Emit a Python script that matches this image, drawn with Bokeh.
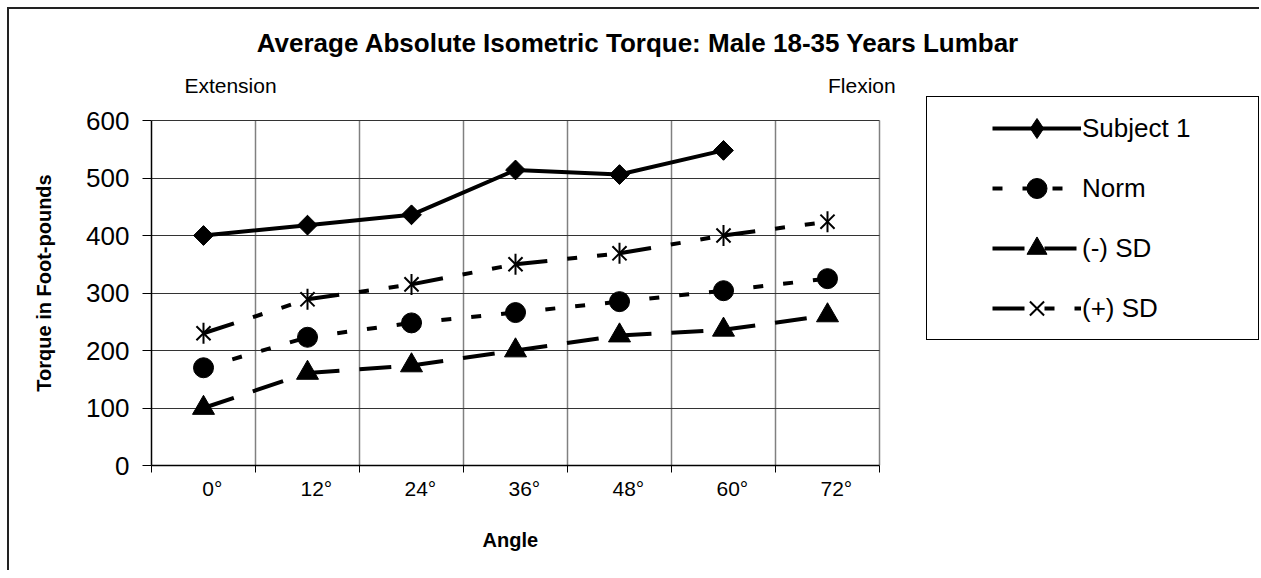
import numpy as np
from bokeh.plotting import figure
from bokeh.models import (Range1d, FixedTicker, Legend, LegendItem, LinearAxis,
                          InlineStyleSheet)
from bokeh.embed import file_html
from bokeh.resources import INLINE

# ---------------- data ----------------
angles = ["0°", "12°", "24°", "36°", "48°", "60°", "72°"]
subject1 = [400, 418, 436, 514, 506, 548]
norm = [170, 223, 248, 266, 285, 304, 325]
minus_sd = [100, 161, 174, 200, 226, 236, 261]
plus_sd = [230, 289, 315, 350, 369, 400, 424]
y_ticks = [0, 100, 200, 300, 400, 500, 600]
series_names = ["Subject 1", "Norm", "(-) SD", "(+) SD"]
title_text = "Average Absolute Isometric Torque: Male 18-35 Years Lumbar"
side_notes = ["Extension", "Flexion"]
x_title, y_title = "Angle", "Torque in Foot-pounds"

FONT = "Liberation Sans"
n = len(angles)
xc = np.arange(n) + 0.5          # category centres on a 0..n axis
y_max = y_ticks[-1]

# ---------------- geometry (canvas px) ----------------
W, H = 1259, 570
F_LEFT, F_TOP, F_BOTTOM = 151, 100, 465      # frame (incl. legend area on the right)
PLOT_RIGHT, PLOT_TOP = 879, 120              # where category n and y_max land
x_end = n * (W - F_LEFT) / (PLOT_RIGHT - F_LEFT)
y_end = y_max * (F_BOTTOM - F_TOP) / (F_BOTTOM - PLOT_TOP)

# chart frame + legend box drawn as page decoration
css = """
:host { position: relative; overflow: hidden; }
:host::before { content: ""; position: absolute; left: 7px; top: 7px;
  width: calc(100% + 20px); height: calc(100% + 20px);
  border-left: 2px solid #222; border-top: 2px solid #222; pointer-events: none; z-index: 10; }
:host::after { content: ""; position: absolute; left: 926px; top: 96px; width: 333px; height: 244px;
  border: 1px solid #000; box-sizing: border-box; pointer-events: none; z-index: 10; }
"""

p = figure(width=W, height=H, output_backend="svg", toolbar_location=None,
           x_range=Range1d(0, x_end), y_range=Range1d(0, y_end),
           min_border_left=F_LEFT, min_border_right=0,
           min_border_top=F_TOP, min_border_bottom=H - F_BOTTOM,
           stylesheets=[InlineStyleSheet(css=css)])
p.outline_line_color = None
p.background_fill_color = "white"
p.border_fill_color = "white"
p.title.visible = False


def text_axis(ticks, texts, size, bold, standoff):
    """An axis that only carries text labels at the given x positions."""
    ax = LinearAxis(ticker=FixedTicker(ticks=ticks),
                    major_label_overrides={v: t for v, t in zip(ticks, texts)})
    ax.axis_line_color = None
    ax.major_tick_line_color = None
    ax.minor_tick_line_color = None
    ax.major_tick_out = 0
    ax.major_tick_in = 0
    ax.major_label_standoff = standoff
    ax.major_label_text_font = FONT
    ax.major_label_text_font_size = size
    ax.major_label_text_font_style = "bold" if bold else "normal"
    ax.major_label_text_color = "black"
    return ax


# x axis (below): labels at category centres, tick marks on category boundaries
xax = p.below[0]
label_pos = xc + 0.085
xax.bounds = (0, n)
xax.ticker = FixedTicker(ticks=list(label_pos), minor_ticks=list(range(n + 1)))
xax.major_label_overrides = {float(v): a for v, a in zip(label_pos, angles)}
xax.major_tick_out = 0
xax.major_tick_in = 0
xax.major_tick_line_color = None
xax.minor_tick_out = 7
xax.minor_tick_in = 0
xax.minor_tick_line_color = "black"
xax.major_label_standoff = 4
xax.major_label_text_font = FONT
xax.major_label_text_font_size = "21px"
xax.major_label_text_color = "black"
xax.axis_line_color = "black"
xax.axis_line_width = 1.5

# x-axis title, centred under the category axis
p.add_layout(text_axis([3.45], [x_title], "20px", True, 26), "below")

yax = p.left[0]
yax.bounds = (0, y_max)
yax.ticker = FixedTicker(ticks=y_ticks)
yax.major_tick_out = 9
yax.major_tick_in = 0
yax.major_tick_line_color = "black"
yax.minor_tick_line_color = None
yax.major_label_standoff = 13
yax.major_label_text_font = FONT
yax.major_label_text_font_size = "26px"
yax.major_label_text_color = "black"
yax.axis_label = y_title
yax.axis_label_text_font = FONT
yax.axis_label_text_font_size = "20px"
yax.axis_label_text_font_style = "bold"
yax.axis_label_text_color = "black"
yax.axis_label_standoff = 28
yax.axis_line_color = "black"
yax.axis_line_width = 1.5

# "Extension" / "Flexion" notes just above the plot, chart title above them
p.add_layout(text_axis([0.76, 6.83], side_notes, "21px", False, 4), "above")
p.add_layout(text_axis([4.68], [title_text], "26px", True, 13), "above")

# grids: vertical lines on category boundaries, horizontal at y ticks
p.xgrid.ticker = FixedTicker(ticks=list(range(n + 1)))
p.xgrid.cross_bounds = (0, y_max)
p.xgrid.grid_line_color = "#808080"
p.xgrid.grid_line_width = 1.5
p.ygrid.ticker = FixedTicker(ticks=y_ticks)
p.ygrid.cross_bounds = (0, n)
p.ygrid.grid_line_color = "#333333"
p.ygrid.grid_line_width = 1

# ---------------- series ----------------
def segs(vals, dash):
    k = len(vals)
    return p.segment(x0=xc[:k - 1], y0=vals[:-1], x1=xc[1:k], y1=vals[1:],
                     line_color="black", line_width=4, line_dash=dash)

k1 = len(subject1)
l1 = p.line(xc[:k1], subject1, line_color="black", line_width=4)
l2 = segs(norm, "10 20")
l3 = segs(minus_sd, "32 20")
l4 = segs(plus_sd, "32 20 10 20 10 20")

m1 = p.scatter(xc[:k1], subject1, marker="square", angle=np.pi / 4, size=14,
               fill_color="black", line_color="black")
m1d = p.scatter(xc[:k1], subject1, marker="diamond", size=19,
                fill_color="black", line_color="black")
m2 = p.scatter(xc, norm, marker="circle", size=20, fill_color="black", line_color="black")
m3 = p.scatter(xc, minus_sd, marker="triangle", size=22, fill_color="black", line_color="black")
m4a = p.scatter(xc, plus_sd, marker="x", size=20, line_color="black", line_width=2)
m4b = p.scatter(xc, plus_sd, marker="dash", angle=np.pi / 2, size=21,
                line_color="black", line_width=2)

legend = Legend(items=[
    LegendItem(label=series_names[0], renderers=[l1, m1d]),
    LegendItem(label=series_names[1], renderers=[l2, m2]),
    LegendItem(label=series_names[2], renderers=[l3, m3]),
    LegendItem(label=series_names[3], renderers=[l4, m4a]),
], location=(841, 132))
legend.padding = 0
legend.margin = 0
legend.spacing = 10
legend.glyph_width = 89
legend.glyph_height = 50
legend.label_standoff = 1
legend.label_text_font = FONT
legend.label_text_font_size = "26px"
legend.label_text_color = "black"
legend.border_line_color = None
legend.background_fill_alpha = 0
p.add_layout(legend)

open("out.html", "w").write(file_html(p, INLINE))
